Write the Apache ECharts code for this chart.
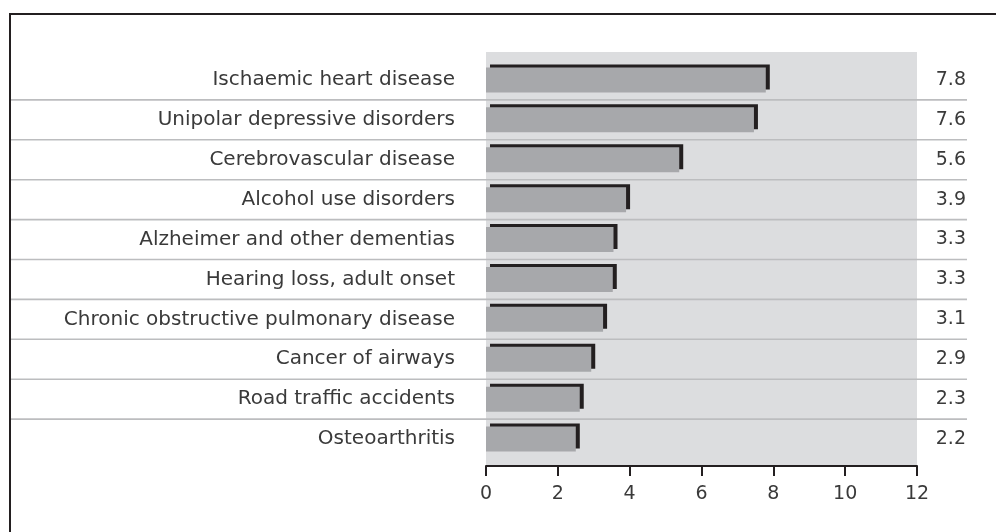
<!DOCTYPE html>
<html><head><meta charset="utf-8">
<script src="https://cdn.jsdelivr.net/npm/echarts@6/dist/echarts.min.js"></script>
<style>html,body{margin:0;padding:0;background:#fff}#c{width:996px;height:532px}</style>
</head><body><div id="c"></div><script>
const categories = ['Ischaemic heart disease','Unipolar depressive disorders','Cerebrovascular disease','Alcohol use disorders','Alzheimer and other dementias','Hearing loss, adult onset','Chronic obstructive pulmonary disease','Cancer of airways','Road traffic accidents','Osteoarthritis'];
const barValues = [7.79, 7.46, 5.38, 3.90, 3.55, 3.53, 3.26, 2.93, 2.61, 2.50];
const valueLabels = ['7.8','7.6','5.6','3.9','3.3','3.3','3.1','2.9','2.3','2.2'];
const xMin = 0, xMax = 12, xStep = 2;

const FONT = 'DejaVu Sans';
const TXT = '#3a3a3a';
const chart = echarts.init(document.getElementById('c'), null, {renderer:'canvas'});
chart.setOption({
  animation: false,
  backgroundColor: '#ffffff',
  grid: {left: 486, right: 79, top: 60, height: 399, containLabel: false},
  xAxis: {
    type: 'value', min: xMin, max: xMax, interval: xStep, position: 'bottom', offset: 7, z: 5,
    axisLine: {show: true, lineStyle: {color: '#231f20', width: 2}},
    axisTick: {show: true, length: 10, lineStyle: {color: '#231f20', width: 2}},
    splitLine: {show: false},
    axisLabel: {fontFamily: FONT, fontSize: 19, color: TXT, margin: 19}
  },
  yAxis: [{
    type: 'category', data: categories, inverse: true,
    axisLine: {show: false}, axisTick: {show: false}, splitLine: {show: false},
    axisLabel: {fontFamily: FONT, fontSize: 20, color: TXT, margin: 31}
  }, {
    type: 'category', data: valueLabels, inverse: true, position: 'right',
    axisLine: {show: false}, axisTick: {show: false}, splitLine: {show: false},
    axisLabel: {fontFamily: FONT, fontSize: 19, color: TXT, margin: 49, align: 'right'}
  }],
  series: [{
    type: 'bar', data: barValues, yAxisIndex: 0, barWidth: 25, z: 4,
    itemStyle: {color: '#a7a8ab', shadowColor: '#231f20', shadowBlur: 0, shadowOffsetX: 4, shadowOffsetY: -3}
  }]
});

// layout helpers derived from the axes
const px0 = chart.convertToPixel({xAxisIndex: 0}, xMin);
const px1 = chart.convertToPixel({xAxisIndex: 0}, xMax);
const centers = categories.map((c, i) => chart.convertToPixel({yAxisIndex: 0}, i));
const band = centers[1] - centers[0];
const bgTop = centers[0] - band / 2 - 8;
const bgBot = centers[centers.length - 1] + band / 2 + 7;
const graphics = [{
  type: 'rect', z: 0, silent: true,
  shape: {x: px0, y: bgTop, width: px1 - px0, height: bgBot - bgTop},
  style: {fill: '#dcdddf'}
}];
for (let i = 0; i < centers.length - 1; i++) {
  const y = (centers[i] + centers[i + 1]) / 2;
  graphics.push({type: 'line', z: 1, silent: true,
    shape: {x1: 10, y1: y, x2: 967, y2: y},
    style: {stroke: '#bcbdbf', lineWidth: 1.6}});
}
graphics.push({type: 'polyline', z: 1, silent: true,
  shape: {points: [[10, 532], [10, 14], [996, 14]]},
  style: {stroke: '#231f20', lineWidth: 2, fill: null}});
chart.setOption({graphic: graphics});
</script></body></html>
